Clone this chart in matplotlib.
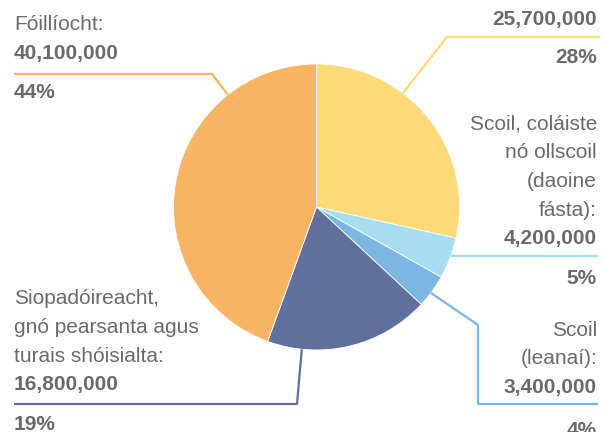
import numpy as np
import matplotlib.pyplot as plt

# Líon na dturas de réir cuspóra
labels = [[], ["Scoil, coláiste", "nó ollscoil", "(daoine", "fásta):"],
          ["Scoil", "(leanaí):"],
          ["Siopadóireacht,", "gnó pearsanta agus", "turais shóisialta:"],
          ["Fóillíocht:"]]
values = [25700000, 4200000, 3400000, 16800000, 40100000]
percents = [28, 5, 4, 19, 44]
colors = ["#FED978", "#A6DEF0", "#7BB7E2", "#616F9C", "#F8B363"]

W, H = 603, 432
plt.rcParams["font.family"] = ["Liberation Sans", "DejaVu Sans"]
fig = plt.figure(figsize=(W / 100, H / 100), dpi=100)
ax = fig.add_axes([0, 0, 1, 1])

txt = "#6A6A6A"
fs = 15.0


def Y(y):
    # pixel row -> data y
    return H - y


cx, cy, r = 316.5, 207, 143
ax.pie(values, colors=colors, startangle=90, counterclock=False,
       center=(cx, Y(cy)), radius=r, frame=True,
       wedgeprops=dict(edgecolor="white", linewidth=0.6))
ax.set_xlim(0, W)
ax.set_ylim(0, H)
ax.set_aspect("equal")
ax.axis("off")


def edge(deg):
    a = np.radians(deg)
    return cx + r * np.cos(a), cy - r * np.sin(a)


def leader(points, color):
    xs = [p[0] for p in points]
    ys = [Y(p[1]) for p in points]
    ax.plot(xs, ys, color=color, lw=1.6, solid_capstyle="butt", zorder=1)


def block(x, ha, lines, baselines, value, pct):
    # lines of the category name, then the count and the share in bold
    for s, b in zip(lines, baselines):
        ax.text(x, Y(b), s, ha=ha, va="baseline", fontsize=fs, color=txt)
    n = len(lines)
    ax.text(x, Y(baselines[n]), f"{value:,}", ha=ha, va="baseline",
            fontsize=fs, fontweight="bold", color=txt)
    ax.text(x, Y(baselines[n + 1]), f"{pct}%", ha=ha, va="baseline",
            fontsize=fs, fontweight="bold", color=txt)


# 25,700,000
leader([edge(52.8), (447, 37), (600, 37)], colors[0])
block(597, "right", labels[0], [25.3, 63.3], values[0], percents[0])

# Scoil, coláiste nó ollscoil
leader([edge(-20), (598, 256)], colors[1])
block(597, "right", labels[1], [130, 158.5, 187, 215.5, 244, 284],
      values[1], percents[1])

# Scoil (leanaí)
leader([edge(-36.9), (478, 325), (478, 404), (598, 404)], colors[2])
block(597, "right", labels[2], [336, 364.5, 392.7, 436], values[2], percents[2])

# Siopadóireacht
leader([edge(-95.9), (297, 404), (14, 404)], colors[3])
block(14, "left", labels[3], [304.3, 333, 361.5, 390, 430],
      values[3], percents[3])

# Fóillíocht
leader([edge(128.3), (212, 74), (14, 74)], colors[4])
block(14, "left", labels[4], [30, 59.3, 98.3], values[4], percents[4])

fig.savefig("out.png", dpi=100)
